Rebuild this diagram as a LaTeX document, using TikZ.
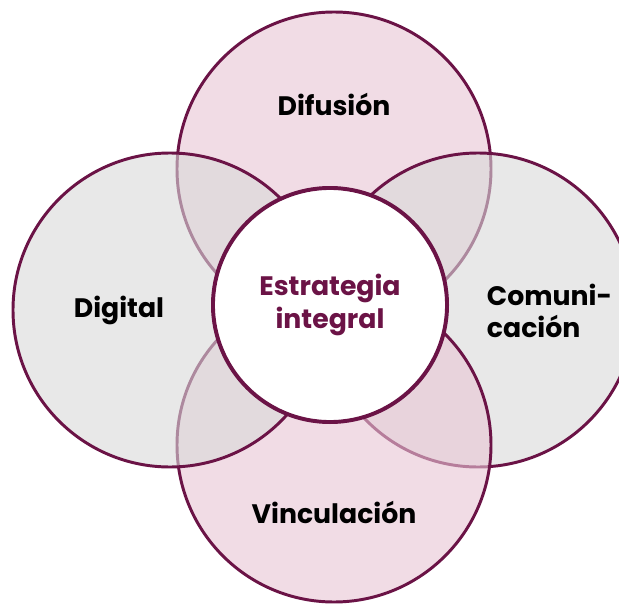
\documentclass[tikz,border=0pt]{standalone}
\usepackage{fontspec}
\setmainfont{Poppins}
\usetikzlibrary{shadows}
\definecolor{ciruela}{HTML}{6B1346}
\definecolor{rosa}{HTML}{E9C5D5}
\definecolor{gris}{HTML}{D9D9D9}
\begin{document}
\begin{tikzpicture}[x=0.025cm, y=-0.025cm,
  every node/.style={font=\bfseries\fontsize{19}{23}\selectfont, text=black},
  aro/.style={draw=ciruela, line width=2.1pt, fill opacity=0.6}]
  \useasboundingbox (0,0) rectangle (619,604);
  \fill[white] (0,0) rectangle (619,604);
  \draw[aro, fill=rosa] (334,169) circle (157);
  \draw[aro, fill=gris] (478,310) circle (157);
  \draw[aro, fill=rosa] (334,445) circle (157);
  \draw[aro, fill=gris] (170,310) circle (157);
  \node[circle, draw=ciruela, line width=2.8pt, fill=white, minimum size=5.85cm,
        text=ciruela, align=center,
        drop shadow={opacity=0.25, shadow xshift=0.6pt, shadow yshift=-0.8pt}]
        (centro) at (330,305) {Estrategia\\integral};
  \node (difusion) at (334,104) {Difusión};
  \node (digital) at (119,310) {Digital};
  \node[anchor=west, align=left] (comunicacion) at (482,311) {Comuni-\\cación};
  \node (vinculacion) at (334,512) {Vinculación};
\end{tikzpicture}
\end{document}
